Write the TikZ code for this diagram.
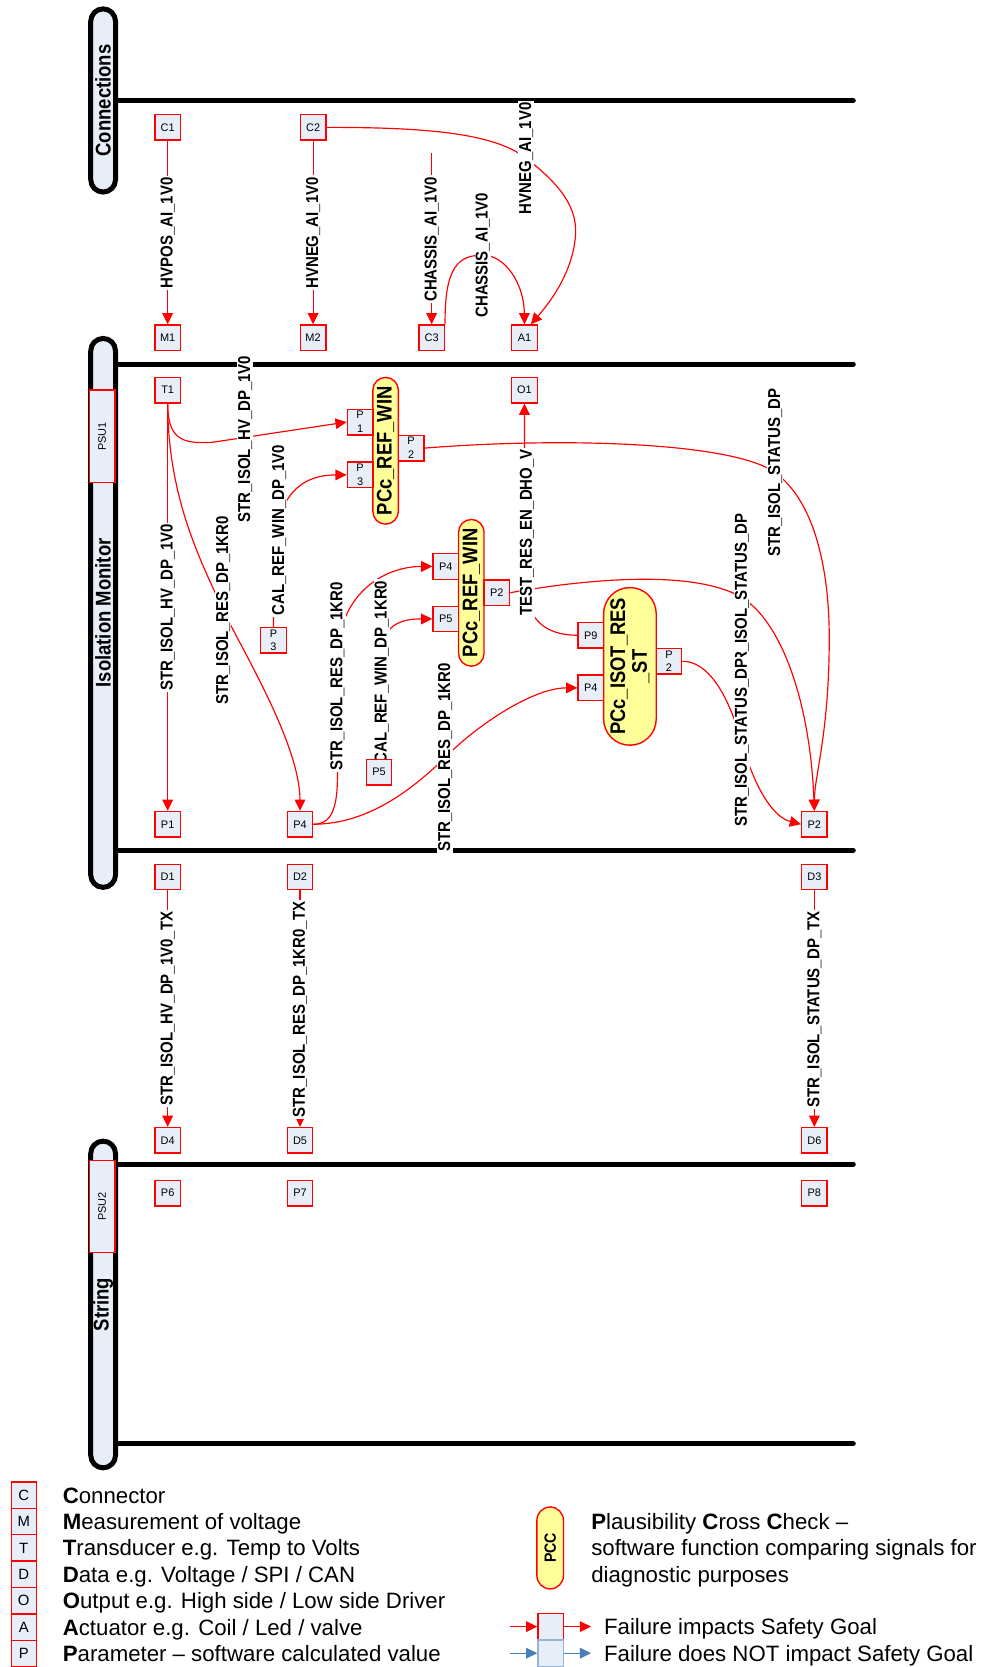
\documentclass[tikz,border=0pt]{standalone}
\usepackage{fontspec}
\setmainfont{Liberation Sans}
\newfontfamily\nf[FakeStretch=0.87]{Liberation Sans}
\usetikzlibrary{arrows.meta}
\pgfdeclarelayer{lanes}
\pgfdeclarelayer{edges}
\pgfdeclarelayer{labels}
\pgfsetlayers{lanes,edges,labels,main}
\definecolor{boxfill}{RGB}{232,238,248}
\definecolor{pccfill}{RGB}{255,255,153}
\definecolor{arrblue}{RGB}{74,126,187}
\definecolor{blueborder}{RGB}{149,179,215}
\begin{document}
\begin{tikzpicture}[x=1pt,y=-1pt,
  sbox/.style={draw=red, line width=1.3pt, fill=boxfill, minimum width=24pt, minimum height=24pt, inner sep=0pt, align=center, font=\fontsize{10.3}{13}\selectfont},
  lbl/.style={fill=white, inner xsep=1.5pt, inner ysep=1pt, rotate=90, font=\nf\bfseries\fontsize{16.2}{17}\selectfont},
  conn/.style={draw=red, line width=1.1pt},
  arr/.style={conn, -{Triangle[length=10.5pt,width=10pt]}},
  barr/.style={draw=arrblue, line width=1.1pt, -{Triangle[length=10.5pt,width=10pt]}},
  lanepill/.style={draw=black, line width=4.7pt, fill=boxfill, rounded corners=11.65pt, rotate=90, minimum height=23.3pt, inner sep=0pt, font=\nf\bfseries\fontsize{20}{22}\selectfont},
  laneline/.style={draw=black, line width=4.7pt, line cap=round},
  psubox/.style={draw=red, line width=1.3pt, fill=boxfill, rotate=90, minimum height=24pt, inner sep=0pt, font=\fontsize{10.3}{12}\selectfont},
  pcc/.style={draw=red, line width=1.3pt, fill=pccfill, rotate=90, inner sep=0pt, align=center, font=\nf\bfseries\fontsize{19.9}{20.4}\selectfont},
  legbox/.style={sbox, minimum width=23.5pt, minimum height=24.8pt, font=\fontsize{14}{16}\selectfont},
  legtxt/.style={anchor=base west, inner sep=0pt, font=\fontsize{20.9}{24}\selectfont},
]
\useasboundingbox (0,0) rectangle (923,1568);

% ---------------- lanes ----------------
\begin{pgfonlayer}{lanes}
\draw[laneline] (108.5,94.7) -- (802.6,94.7);
\draw[laneline] (108.5,342.5) -- (802.6,342.5);
\draw[laneline] (108.5,799.8) -- (802.6,799.8);
\draw[laneline] (108.5,1095) -- (802.6,1095);
\draw[laneline] (108.5,1358) -- (802.6,1358);
\node[lanepill, minimum width=172.3pt] (laneC) at (97,94.5) {Connections};
\node[lanepill, minimum width=516.3pt] (laneI) at (97,576.5) {Isolation Monitor};
\node[lanepill, minimum width=307.3pt] (laneS) at (97,1227) {String};
\node[psubox, minimum width=87pt] (PSU1) at (96,410.5) {PSU1};
\node[psubox, minimum width=86.5pt] (PSU2) at (96,1134.8) {PSU2};
\end{pgfonlayer}

% ---------------- boxes ----------------
\node[sbox] (C1) at (157.7,119.8) {C1};
\node[sbox] (C2) at (294.5,119.8) {C2};
\node[sbox] (M1) at (157.7,317.7) {M1};
\node[sbox] (M2) at (294.5,317.7) {M2};
\node[sbox] (C3) at (406,317.7) {C3};
\node[sbox] (A1) at (493.3,317.7) {A1};
\node[sbox] (T1) at (157.7,367) {T1};
\node[sbox] (O1) at (493.3,367) {O1};

\node[pcc, minimum width=138pt, minimum height=24pt, rounded corners=12pt] (PCC1) at (362.7,424) {PCc\_REF\_WIN};
\node[sbox] (PA1) at (338.7,397) {P\\1};
\node[sbox] (PA3) at (338.7,446.7) {P\\3};
\node[sbox] (PA2) at (386.7,421.5) {P\\2};

\node[pcc, minimum width=138pt, minimum height=24pt, rounded corners=12pt] (PCC2) at (443.3,557.6) {PCc\_REF\_WIN};
\node[sbox] (PB4) at (419.3,532.8) {P4};
\node[sbox] (PB5) at (419.3,582.2) {P5};
\node[sbox] (PB2) at (467.3,557.5) {P2};

\node[pcc, minimum width=148.3pt, minimum height=49.5pt, rounded corners=24.7pt] (PCC3) at (592.5,626.8) {PCc\_ISOT\_RES\\\_ST};
\node[sbox] (PC9) at (555.7,597.5) {P9};
\node[sbox] (PC4) at (555.7,647) {P4};
\node[sbox] (PC2) at (629.3,622) {P\\2};

\node[sbox] (P3s) at (257.2,602.2) {P\\3};
\node[sbox] (P5s) at (356.5,726.2) {P5};
\node[sbox] (P1) at (157.7,775.3) {P1};
\node[sbox] (P4b) at (282.2,775.3) {P4};
\node[sbox] (P2r) at (766,775.3) {P2};

\node[sbox] (D1) at (157.7,824.9) {D1};
\node[sbox] (D2) at (282.2,824.9) {D2};
\node[sbox] (D3) at (766,824.9) {D3};
\node[sbox] (D4) at (157.7,1072.6) {D4};
\node[sbox] (D5) at (282.2,1072.6) {D5};
\node[sbox] (D6) at (766,1072.6) {D6};
\node[sbox] (P6) at (157.7,1122.2) {P6};
\node[sbox] (P7) at (282.2,1122.2) {P7};
\node[sbox] (P8) at (766,1122.2) {P8};

% ---------------- labels ----------------
\begin{pgfonlayer}{labels}
\node[lbl] (L1) at (157.7,219) {HVPOS\_AI\_1V0};
\node[lbl] (L2) at (294.5,219) {HVNEG\_AI\_1V0};
\node[lbl] (L3) at (406,225) {CHASSIS\_AI\_1V0};
\node[lbl] (L4) at (454,240) {CHASSIS\_AI\_1V0};
\node[lbl] (L5) at (495,149) {HVNEG\_AI\_1V0};
\node[lbl] (L6) at (230.5,413) {STR\_ISOL\_HV\_DP\_1V0};
\node[lbl] (L7) at (157.7,571.5) {STR\_ISOL\_HV\_DP\_1V0};
\node[lbl] (L8) at (210,574) {STR\_ISOL\_RES\_DP\_1KR0};
\node[lbl] (L9) at (262.5,498.7) {CAL\_REF\_WIN\_DP\_1V0};
\node[lbl] (L10) at (317.4,636) {STR\_ISOL\_RES\_DP\_1KR0};
\node[lbl] (L11) at (359,632) {CAL\_REF\_WIN\_DP\_1KR0};
\node[lbl] (L12) at (418.7,712.7) {STR\_ISOL\_RES\_DP\_1KR0};
\node[lbl] (L13) at (495.5,501) {TEST\_RES\_EN\_DHO\_V};
\node[lbl] (L14) at (729.2,444.6) {STR\_ISOL\_STATUS\_DP};
\node[lbl] (L15) at (697.8,562) {STR\_ISOL\_STATUS\_DP};
\node[lbl] (L16) at (697.8,698.6) {STR\_ISOL\_STATUS\_DP};
\node[lbl] (L17) at (157.7,948.8) {STR\_ISOL\_HV\_DP\_1V0\_TX};
\node[lbl] (L18) at (282.2,949.5) {STR\_ISOL\_RES\_DP\_1KR0\_TX};
\node[lbl] (L19) at (766,949.5) {STR\_ISOL\_STATUS\_DP\_TX};
\end{pgfonlayer}

% ---------------- connectors ----------------
\begin{pgfonlayer}{edges}
\coordinate (chs) at (406,144);
\draw[arr] (C1) -- (M1);
\draw[arr] (C2) -- (M2);
\draw[arr] (chs) -- (C3);
\draw[arr] (C3.north east) .. controls (418,250) and (432,240) .. (L4.center) .. controls (476,240) and (493,268) .. (A1.north);
\draw[arr] (C2.east) .. controls (400,119.8) and (465,125) .. (L5.center) .. controls (525,172) and (545,195) .. (541,225) .. controls (537,260) and (515,287) .. ([xshift=6pt]A1.north);

\draw[arr] (T1) -- (P1);
\draw[arr] (T1.south) .. controls (158,412) and (170,418) .. (200,416) -- (PA1.west);
\draw[arr] (T1.south) .. controls (158,470) and (190,530) .. (L8.center) .. controls (228,612) and (282,700) .. (P4b.north);
\draw[arr] (P3s.north) -- (257.2,530) .. controls (257.2,470) and (280,446.7) .. (PA3.west);
\draw[arr] (P4b.east) .. controls (312,775.3) and (317.4,760) .. (317.4,730) -- (317.4,620) .. controls (317.4,560) and (360,532.8) .. (PB4.west);
\draw[arr] (P5s.north) -- (356.5,625) .. controls (356.5,585) and (380,582.2) .. (PB5.west);
\draw[arr] (P4b.east) .. controls (350,775) and (392,738) .. (L12.center) .. controls (445,685) and (500,647) .. (PC4.west);
\draw[arr] (PA2.east) .. controls (530,411) and (690,416) .. (L14.center) .. controls (768,473) and (780,540) .. (780,600) .. controls (780,690) and (766,730) .. (P2r.north);
\draw[arr] (PB2.east) .. controls (550,545) and (652,535) .. (L15.center) .. controls (735,585) and (762,660) .. (P2r.north);
\draw[arr] (PC2.east) .. controls (665,622) and (684,650) .. (L16.center) .. controls (708,735) and (725,768) .. (P2r.west);
\draw[arr] (PC9.west) .. controls (510,597.5) and (494,580) .. (493.3,545) -- (O1.south);

\draw[arr] (D1) -- (D4);
\draw[arr] (D2) -- (D5);
\draw[arr] (D3) -- (D6);
\end{pgfonlayer}

% ---------------- legend ----------------
\node[legbox] (kC) at (22.35,1406.4) {C};
\node[legbox] (kM) at (22.35,1431.2) {M};
\node[legbox] (kT) at (22.35,1456.0) {T};
\node[legbox] (kD) at (22.35,1480.8) {D};
\node[legbox] (kO) at (22.35,1505.6) {O};
\node[legbox] (kA) at (22.35,1530.4) {A};
\node[legbox] (kP) at (22.35,1555.2) {P};
\node[legtxt] (tC) at (58.9,1413.9) {\textbf{C}onnector};
\node[legtxt] (tM) at (58.9,1438.7) {\textbf{M}easurement of voltage};
\node[legtxt] (tT) at (58.9,1463.5) {\textbf{T}ransducer e.g. Temp to Volts};
\node[legtxt] (tD) at (58.9,1488.3) {\textbf{D}ata e.g. Voltage / SPI / CAN};
\node[legtxt] (tO) at (58.9,1513.1) {\textbf{O}utput e.g. High side / Low side Driver};
\node[legtxt] (tA) at (58.9,1537.9) {\textbf{A}ctuator e.g. Coil / Led / valve};
\node[legtxt] (tP) at (58.9,1562.7) {\textbf{P}arameter – software calculated value};

\node[pcc, minimum width=77pt, minimum height=25pt, rounded corners=12.5pt, font=\nf\bfseries\fontsize{15.3}{16}\selectfont] (kPCC) at (517.5,1456) {PCC};
\node[legtxt] (tPCC1) at (556,1438.7) {\textbf{P}lausibility \textbf{C}ross \textbf{C}heck –};
\node[legtxt] (tPCC2) at (556,1463.5) {software function comparing signals for};
\node[legtxt] (tPCC3) at (556,1488.3) {diagnostic purposes};

\node[sbox, minimum width=24pt, minimum height=25pt] (kRed) at (518,1530) {};
\node[sbox, draw=blueborder, minimum width=24pt, minimum height=25pt] (kBlue) at (518,1555) {};
\coordinate (kr1) at (480,1530);
\coordinate (kr2) at (556,1530);
\coordinate (kb1) at (480,1555);
\coordinate (kb2) at (556,1555);
\draw[arr] (kr1) -- (kRed.west);
\draw[arr] (kRed.east) -- (kr2);
\draw[barr] (kb1) -- (kBlue.west);
\draw[barr] (kBlue.east) -- (kb2);
\node[legtxt] (tRed) at (568,1537.5) {Failure impacts Safety Goal};
\node[legtxt] (tBlue) at (568,1562.5) {Failure does NOT impact Safety Goal};
\end{tikzpicture}
\end{document}
